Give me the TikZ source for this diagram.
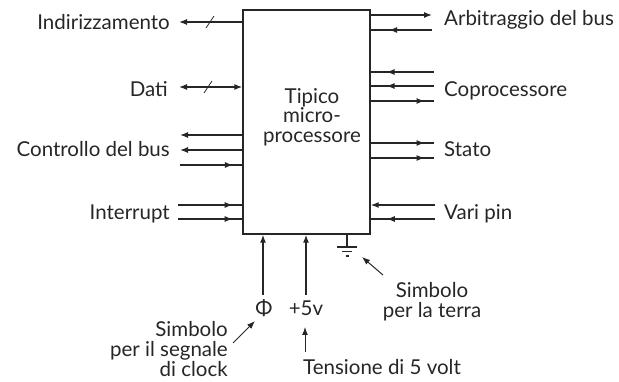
\documentclass[tikz,border=0pt]{standalone}
\usepackage{fontspec}
\setmainfont{Lato}
\usetikzlibrary{arrows.meta,decorations.markings}
\definecolor{ink}{HTML}{262626}
\begin{document}
\begin{tikzpicture}[x=1pt,y=-1pt,
  wire/.style={draw=ink, line width=1.2pt},
  lbl/.style={text=ink, font=\fontsize{20.5}{20}\selectfont, inner sep=0pt, text height=14pt, text depth=4pt},
  tipend/.style={-{Latex[length=8pt,width=6pt]}},
  tipboth/.style={{Latex[length=8pt,width=6pt]}-{Latex[length=8pt,width=6pt]}},
  midfwd/.style={postaction=decorate, decoration={markings, mark=at position #1 with {\arrow{Latex[length=8pt,width=6pt]}}}},
  midback/.style={postaction=decorate, decoration={markings, mark=at position #1 with {\arrowreversed{Latex[length=8pt,width=6pt]}}}},
  bus/.style={draw=ink, line width=0.8pt}
]
\useasboundingbox (0,0) rectangle (619,382);
% processor box
\node[draw=ink, line width=1.4pt, minimum width=127pt, minimum height=224pt, inner sep=0pt] (cpu) at (306.5,122) {};
\node[text=ink, font=\fontsize{20.5}{19.5}\selectfont, align=center, inner sep=0pt] (cputxt) at (312,117) {Tipico\\micro-\\processore};

% left labels
\node[lbl, anchor=east] (addr) at (170,25) {Indirizzamento};
\node[lbl, anchor=east] (data) at (168,92) {Dati};
\node[lbl, anchor=east] (ctrl) at (170,152) {Controllo del bus};
\node[lbl, anchor=east] (intr) at (170,215) {Interrupt};
% right labels
\node[lbl, anchor=west] (arb) at (444,21) {Arbitraggio del bus};
\node[lbl, anchor=west] (copr) at (444,92) {Coprocessore};
\node[lbl, anchor=west] (stat) at (444,152) {Stato};
\node[lbl, anchor=west] (vari) at (444,215) {Vari pin};

% left free ends
\coordinate (l1) at (179,22);
\coordinate (l2) at (179,87);
\coordinate (l3) at (180,135);
\coordinate (l4) at (180,150);
\coordinate (l5) at (180,165);
\coordinate (l6) at (178,205);
\coordinate (l7) at (178,219);
\draw[wire,tipend] (cpu.west |- l1) -- (l1);
\draw[bus] (206,28) -- (214,16);
\draw[wire,tipboth] (cpu.west |- l2) -- (l2);
\draw[bus] (204,93) -- (212,81);
\draw[wire,tipend] (cpu.west |- l3) -- (l3);
\draw[wire,tipend] (cpu.west |- l4) -- (l4);
\draw[wire,midfwd=0.85] (l5) -- (cpu.west |- l5);
\draw[wire,midfwd=0.85] (l6) -- (cpu.west |- l6);
\draw[wire,midfwd=0.85] (l7) -- (cpu.west |- l7);

% right free ends
\coordinate (r1) at (432,15);
\coordinate (r2) at (432,30);
\coordinate (r3) at (434,72);
\coordinate (r4) at (434,86);
\coordinate (r5) at (434,101);
\coordinate (r6) at (434,143);
\coordinate (r7) at (434,158);
\coordinate (r8) at (435,205);
\coordinate (r9) at (435,219);
\draw[wire,tipend] (cpu.east |- r1) -- (r1);
\draw[wire,midback=0.3] (cpu.east |- r2) -- (r2);
\draw[wire,midback=0.25] (cpu.east |- r3) -- (r3);
\draw[wire,midback=0.25] (cpu.east |- r4) -- (r4);
\draw[wire,midfwd=0.85] (cpu.east |- r5) -- (r5);
\draw[wire,midfwd=0.85] (cpu.east |- r6) -- (r6);
\draw[wire,midfwd=0.85] (cpu.east |- r7) -- (r7);
\draw[wire,tipend] (r8) -- (cpu.east |- r8);
\draw[wire,midback=0.25] (cpu.east |- r9) -- (r9);

% bottom inputs
\node[lbl] (phi) at (264,311) {Φ};
\node[lbl] (vcc) at (306,311) {+5v};
\coordinate (p1) at (263,295);
\coordinate (p2) at (306,295);
\draw[wire,tipend] (p1) -- (cpu.south -| p1);
\draw[wire,tipend] (p2) -- (cpu.south -| p2);

% ground symbol
\coordinate (g0) at (347,234);
\coordinate (g1) at (347,247);
\draw[wire] (g0) -- (g1);
\draw[wire] (337,247) -- (357,247);
\draw[wire] (342,251.5) -- (352,251.5);
\draw[wire] (345.5,256) -- (348.5,256);
\coordinate (gtip) at (362,257);

\node[text=ink, font=\fontsize{20.5}{20}\selectfont, align=center, inner sep=0pt] (gtxt) at (432,302) {Simbolo\\per la terra};
\coordinate (gtail) at (383,275);
\draw[wire,line width=1pt,tipend] (gtail) -- (gtip);

\node[text=ink, font=\fontsize{20.5}{20}\selectfont, align=right, inner sep=0pt, anchor=east] (ctxt) at (228,349) {Simbolo\\per il segnale\\di clock};
\coordinate (ctail) at (233,343);
\coordinate (ctip) at (255,321);
\draw[wire,line width=1pt,tipend] (ctail) -- (ctip);

\node[lbl, anchor=west] (vtxt) at (303,369) {Tensione di 5 volt};
\coordinate (vtail) at (305,352);
\coordinate (vtip) at (305,327);
\draw[wire,line width=1pt,tipend] (vtail) -- (vtip);
\end{tikzpicture}
\end{document}
